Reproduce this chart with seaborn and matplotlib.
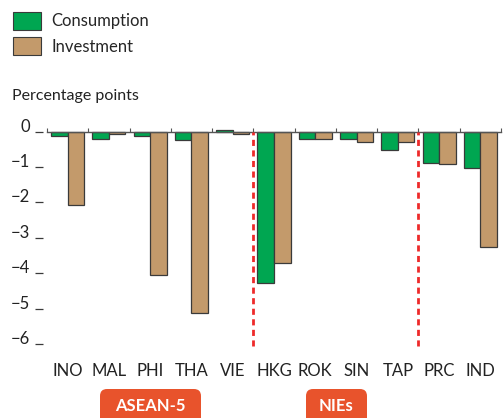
import matplotlib
matplotlib.use('Agg')
import matplotlib.pyplot as plt
import numpy as np
import pandas as pd
import seaborn as sns
from matplotlib.patches import Patch, FancyBboxPatch
from matplotlib.ticker import FixedLocator

# ---- data ----
economies = ['INO', 'MAL', 'PHI', 'THA', 'VIE', 'HKG', 'ROK', 'SIN', 'TAP', 'PRC', 'IND']
consumption = [-0.13, -0.22, -0.12, -0.25, 0.03, -4.27, -0.22, -0.22, -0.53, -0.88, -1.02]
investment = [-2.08, -0.07, -4.06, -5.12, -0.07, -3.70, -0.22, -0.30, -0.30, -0.91, -3.26]
series = ['Consumption', 'Investment']
yticks = [0, -1, -2, -3, -4, -5, -6]
groups = ['ASEAN-5', 'NIEs']

green = '#00A651'
tan = '#C39A6B'
orange = '#E8532C'
red = '#EE2A2A'
dark = '#3a3a3a'

df = pd.DataFrame({
    'economy': economies * 2,
    'series': [series[0]] * len(economies) + [series[1]] * len(economies),
    'value': consumption + investment,
})

sns.set_style('white')
plt.rcParams['font.family'] = ['Lato', 'DejaVu Sans']

fig = plt.figure(figsize=(5.03, 4.18), dpi=100)
ax = fig.add_axes([47 / 503, 1 - 347.5 / 418, 454 / 503, 221.3 / 418])

sns.barplot(data=df, x='economy', y='value', hue='series', order=economies,
            hue_order=series, palette=[green, tan], saturation=1, width=0.8,
            edgecolor=dark, linewidth=0.9, legend=False, ax=ax)

ax.set_xlim(-0.5, len(economies) - 0.5)
ax.set_ylim(-6.1, 0.15)

# divider lines between groups
ax.vlines([4.5, 8.5], -6.05, 0, colors=red, linestyles=(0, (2.2, 1.6)), lw=2, zorder=3)

# zero line with small ticks at the category edges
for s in ['left', 'right', 'bottom']:
    ax.spines[s].set_visible(False)
ax.spines['top'].set_position(('data', 0))
ax.spines['top'].set_color('#555555')
ax.spines['top'].set_linewidth(1)
ax.spines['left'].set_position(('outward', 3))
ax.xaxis.set_minor_locator(FixedLocator(np.arange(-0.5, len(economies), 1)))
ax.tick_params(axis='x', which='minor', top=True, bottom=False, direction='out',
               length=3, width=0.8, color='#555555')
ax.tick_params(axis='x', which='major', length=0, pad=11, labelsize=12, labelcolor='#222222')
ax.set_xlabel('')
ax.set_ylabel('')

ax.set_yticks(yticks)
ax.set_yticklabels([str(v).replace('-', '\u2212') for v in yticks])
ax.tick_params(axis='y', left=True, length=6, width=0.9, color=dark, pad=3,
               labelsize=12, labelcolor='#222222')
for lab in ax.get_yticklabels():
    lab.set_va('baseline')

# legend and unit label
handles = [Patch(facecolor=green, edgecolor=dark, lw=0.8),
           Patch(facecolor=tan, edgecolor=dark, lw=0.8)]
fig.legend(handles, series, loc='upper left', bbox_to_anchor=(13 / 503, 1 - 12 / 418),
           frameon=False, fontsize=12, handlelength=1.7, handleheight=1.25,
           labelspacing=0.45, handletextpad=0.6, borderaxespad=0, borderpad=0)
fig.text(12 / 503, 1 - 96 / 418, 'Percentage points', fontsize=11.5,
         va='center', ha='left', color='#222222')

# group labels under the axis
boxes = [(100, 201), (306, 367)]
for name, (x0, x1) in zip(groups, boxes):
    box = FancyBboxPatch((x0 / 100, -0.1), (x1 - x0) / 100, 0.39,
                         boxstyle='round,pad=0,rounding_size=0.07',
                         transform=fig.dpi_scale_trans, facecolor=orange,
                         edgecolor='none')
    fig.patches.append(box)
    fig.text((x0 + x1) / 2 / 503, 1 - 406 / 418, name, ha='center', va='center',
             color='white', fontsize=12, fontweight='bold')

fig.savefig('out.png', dpi=100)
